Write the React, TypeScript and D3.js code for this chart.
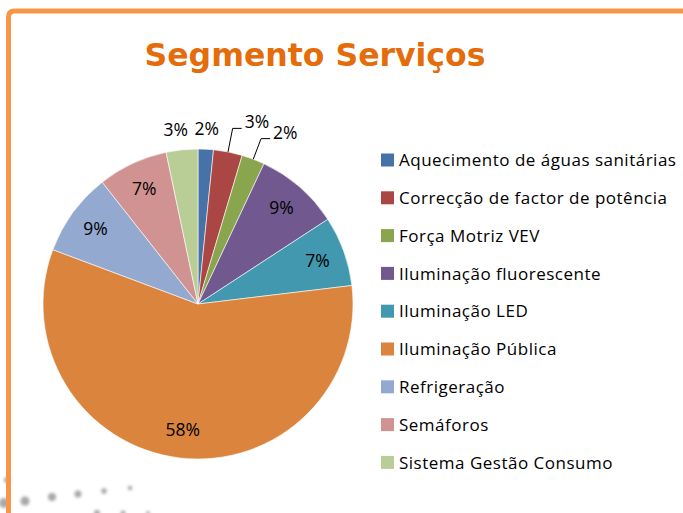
import React from "react";
import { pie, arc, PieArcDatum } from "d3";

// categories and their share of the total (percent)
const categories = [
  "Aquecimento de águas sanitárias",
  "Correcção de factor de potência",
  "Força Motriz VEV",
  "Iluminação fluorescente",
  "Iluminação LED",
  "Iluminação Pública",
  "Refrigeração",
  "Semáforos",
  "Sistema Gestão Consumo",
];
const shares = [1.6, 3.0, 2.4, 8.8, 7.3, 57.6, 8.7, 7.3, 3.3];
const colors = [
  "#4672A8",
  "#AA4643",
  "#89A54E",
  "#71588F",
  "#4198AF",
  "#DB843D",
  "#93A9CF",
  "#D19392",
  "#B9CD96",
];

// decorative dots in the lower left corner
const dots = [
  { x: 4, y: 503, r: 5 },
  { x: 25, y: 501, r: 4.5 },
  { x: 52, y: 497, r: 4 },
  { x: 78, y: 494, r: 3.5 },
  { x: 104, y: 491, r: 2.8 },
  { x: 130, y: 488, r: 2.2 },
  { x: 7, y: 480, r: 3 },
  { x: 97, y: 513, r: 3 },
  { x: 123, y: 513, r: 2.5 },
  { x: 148, y: 513, r: 2 },
];

const W = 683,
  H = 513;
const cx = 198,
  cy = 304,
  radius = 155;
const labelFont = "'Open Sans', 'Noto Sans', sans-serif";

type Row = { name: string; value: number; color: string };

export default function App() {
  const rows: Row[] = categories.map((name, i) => ({
    name,
    value: shares[i],
    color: colors[i],
  }));
  const total = shares.reduce((a, b) => a + b, 0);
  const arcs = pie<Row>()
    .sort(null)
    .value((d) => d.value)(rows);
  const slice = arc<PieArcDatum<Row>>().innerRadius(0).outerRadius(radius);

  const polar = (a: number, r: number): [number, number] => [
    cx + r * Math.sin(a),
    cy - r * Math.cos(a),
  ];

  // outside labels that sit next to each other near 12 o'clock are pushed apart
  const minGap = 31;
  const outsideX: Record<number, number> = {};
  const blue = polar((arcs[0].startAngle + arcs[0].endAngle) / 2, radius + 20)[0];
  const last = arcs.length - 1;
  const sys = polar((arcs[last].startAngle + arcs[last].endAngle) / 2, radius + 20)[0];
  outsideX[0] = blue;
  outsideX[last] = Math.min(sys, blue - minGap);

  const labels = arcs.map((a, i) => {
    const mid = (a.startAngle + a.endAngle) / 2;
    const text = Math.round((a.data.value / total) * 100) + "%";
    if (a.data.value > 5) {
      const [x, y] = polar(mid, radius * 0.82);
      return (
        <text key={i} x={x} y={y} dy="0.35em" textAnchor="middle">
          {text}
        </text>
      );
    }
    if (i === 1 || i === 2) {
      // pushed out with a leader line
      const p0 = polar(mid, radius);
      const p1 = polar(mid, i === 1 ? radius + 24 : radius + 22);
      const p2: [number, number] = [p1[0] + 9, p1[1]];
      return (
        <g key={i}>
          <polyline
            points={[p0, p1, p2].map((p) => p.join(",")).join(" ")}
            fill="none"
            stroke="#000"
            strokeWidth={1}
          />
          <text x={p2[0] + 3} y={p1[1]} dy="0em" textAnchor="start">
            {text}
          </text>
        </g>
      );
    }
    const [, y] = polar(mid, radius + 20);
    return (
      <text key={i} x={outsideX[i]} y={y} dy="0.35em" textAnchor="middle">
        {text}
      </text>
    );
  });

  const legendX = 381,
    legendY = 160,
    legendStep = 37.8;

  return (
    <svg
      width={W}
      height={H}
      style={{ position: "absolute", left: 0, top: 0, background: "#fff" }}
    >
      <defs>
        <filter id="blur" x="-50%" y="-50%" width="200%" height="200%">
          <feGaussianBlur stdDeviation="1.4" />
        </filter>
      </defs>
      <g filter="url(#blur)" fill="#a8a8a8">
        {dots.map((d, i) => (
          <circle key={i} cx={d.x} cy={d.y} r={d.r} />
        ))}
      </g>
      <path
        d={`M 8.5 ${H} L 8.5 17 Q 8.5 11 14.5 11 L ${W} 11`}
        fill="none"
        stroke="#F79646"
        strokeWidth={5}
      />
      <text
        x={315}
        y={66}
        textAnchor="middle"
        fontFamily="'DejaVu Sans', Verdana, sans-serif"
        fontWeight="bold"
        fontSize={31.5}
        fill="#E46C0A"
      >
        Segmento Serviços
      </text>
      <g>
        {arcs.map((a, i) => (
          <path
            key={i}
            d={slice(a) || ""}
            transform={`translate(${cx},${cy})`}
            fill={a.data.color}
            stroke="#fff"
            strokeWidth={0.6}
          />
        ))}
      </g>
      <g fontFamily={labelFont} fontSize={17.5} fill="#000">
        {labels}
      </g>
      <g fontFamily={labelFont} fontSize={17} letterSpacing={0.5} fill="#000">
        {rows.map((r, i) => (
          <g key={i} transform={`translate(${legendX},${legendY + i * legendStep})`}>
            <rect x={0} y={-6.5} width={13} height={13} fill={r.color} />
            <text x={18} y={0} dy="0.36em">
              {r.name}
            </text>
          </g>
        ))}
      </g>
    </svg>
  );
}
